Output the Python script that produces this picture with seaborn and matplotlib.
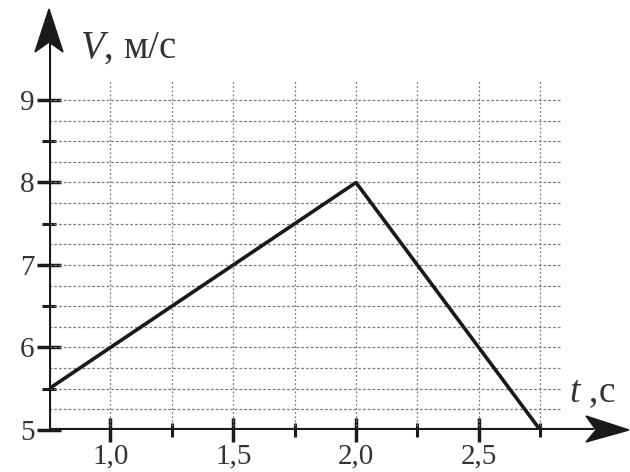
import matplotlib
matplotlib.use("Agg")
import matplotlib.pyplot as plt
from matplotlib.patches import Polygon
import seaborn as sns
import pandas as pd

# data
t_vals = [0.75, 2.0, 2.75]
v_vals = [5.5, 8.0, 5.0]
x_major = [1.0, 1.5, 2.0, 2.5]
x_major_labels = ["1,0", "1,5", "2,0", "2,5"]
x_minor = [1.25, 1.75, 2.25, 2.75]
y_major = [5, 6, 7, 8, 9]
y_major_labels = ["5", "6", "7", "8", "9"]
y_minor = [5.5, 6.5, 7.5, 8.5]
grid_x = [1.0, 1.25, 1.5, 1.75, 2.0, 2.25, 2.5, 2.75]
grid_y = [5.25, 5.5, 5.75, 6.0, 6.25, 6.5, 6.75, 7.0, 7.25, 7.5, 7.75,
          8.0, 8.25, 8.5, 8.75, 9.0]

sns.set_theme(style="white")
plt.rcParams["font.family"] = ["Liberation Serif", "DejaVu Serif"]
plt.rcParams["mathtext.fontset"] = "custom"
plt.rcParams["mathtext.it"] = "Liberation Serif:italic"
plt.rcParams["mathtext.rm"] = "Liberation Serif"

W, H = 630, 472
fig = plt.figure(figsize=(6.3, 4.72), dpi=100)
x0_px, xaxis_px, right_px, top_px = 49, 430, 628, 10
ax = fig.add_axes([x0_px / W, (H - xaxis_px) / H, (right_px - x0_px) / W, (xaxis_px - top_px) / H])
ppx = 245.6
ppy = 82.5
xmin, ymin = 0.75, 5.0
xmax = xmin + (right_px - x0_px) / ppx
ymax = ymin + (xaxis_px - top_px) / ppy
ax.set_xlim(xmin, xmax)
ax.set_ylim(ymin, ymax)
for s in ax.spines.values():
    s.set_visible(False)
ax.patch.set_alpha(0)

gx_end = xmin + (562 - x0_px) / ppx
gy_end = ymin + (xaxis_px - 80) / ppy
ax.hlines(grid_y, xmin, gx_end, colors="#7a7a7a", linestyles=(0, (2.2, 1.6)), lw=0.9, zorder=1)
ax.vlines(grid_x, ymin, gy_end, colors="#7a7a7a", linestyles=(0, (1.5, 1.8)), lw=0.9, zorder=1)

df = pd.DataFrame({"t": t_vals, "v": v_vals})
sns.lineplot(data=df, x="t", y="v", ax=ax, color="#1a1a1a", lw=2.6, zorder=4)
ax.set_xlabel("")
ax.set_ylabel("")

# axis lines
ax.axhline(ymin, xmin=0, xmax=(592 - x0_px) / (right_px - x0_px), color="#1a1a1a", lw=3, zorder=5,
           solid_capstyle="projecting")
ax.axvline(xmin, ymin=0, ymax=(xaxis_px - 45) / (xaxis_px - top_px), color="#1a1a1a", lw=3, zorder=5,
           solid_capstyle="projecting")

def px(pts):
    return [(x / W, 1 - y / H) for x, y in pts]

# arrowheads (stealth style)
fig.patches.append(Polygon(px([(49, 9), (63, 52), (49, 42), (35, 52)]), closed=True,
                           transform=fig.transFigure, color="#1a1a1a", zorder=6))
fig.patches.append(Polygon(px([(629, 430), (586, 442), (596, 430), (586, 416)]), closed=True,
                           transform=fig.transFigure, color="#1a1a1a", zorder=6))

ax.set_xticks(x_major)
ax.set_xticklabels(x_major_labels)
ax.set_xticks(x_minor, minor=True)
ax.set_yticks(y_major)
ax.set_yticklabels(y_major_labels)
ax.set_yticks(y_minor, minor=True)
ax.tick_params(axis="both", which="major", direction="inout", length=17, width=2.5,
               color="#1a1a1a", labelsize=21, labelcolor="#333333", pad=2,
               bottom=True, left=True)
ax.tick_params(axis="x", which="major", pad=1)
ax.tick_params(axis="both", which="minor", direction="inout", length=10, width=2.2,
               color="#1a1a1a", bottom=True, left=True)

fig.text(80 / W, 1 - 58 / H, r"$V$, м/с", fontsize=28, color="#333333", ha="left", va="baseline")
fig.text(569 / W, 1 - 402 / H, r"$t$ ,с", fontsize=27, color="#333333", ha="left", va="baseline")

fig.savefig("out.png", dpi=100)
